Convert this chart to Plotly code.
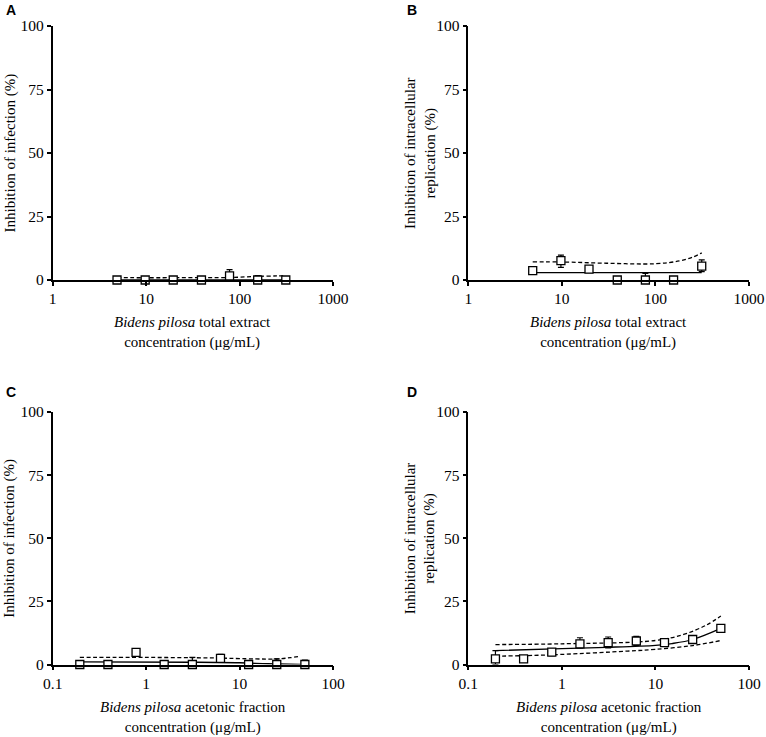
import plotly.graph_objects as go

# концентрации (мкг/мл)
conc_total = [4.88, 9.77, 19.5, 39.1, 78.1, 156.3, 312.5]
conc_acet = [0.195, 0.39, 0.78, 1.56, 3.125, 6.25, 12.5, 25, 50]

# A - ингибирование инфекции, общий экстракт
a_mean = [0, 0, 0, 0, 1.6, 0, 0]
a_err_up = [0, 0, 0, 0, 2.5, 1.7, 0]
a_err_dn = [0, 0, 0, 0, 1.6, 0, 0]
a_fit_x = [4.88, 312.5]
a_fit_y = [0, 0]
a_ci_x = [4.88, 20, 80, 150, 250, 312.5]
a_ci_hi = [0.9, 0.9, 1.0, 1.4, 1.6, 1.6]

# B - ингибирование внутриклеточной репликации, общий экстракт
b_mean = [3.7, 7.6, 4.3, 0, 0, 0, 5.5]
b_err_up = [0, 2.2, 0, 0, 2.6, 0, 2.4]
b_err_dn = [0, 2.6, 0, 0, 0, 0, 2.2]
b_fit_x = [4.88, 312.5]
b_fit_y = [2.9, 2.9]
b_ci_x = [4.88, 10, 30, 100, 180, 250, 312.5]
b_ci_hi = [7.1, 7.1, 6.6, 6.4, 7.5, 9.0, 10.7]

# C - ингибирование инфекции, ацетоновая фракция
c_mean = [0, 0, 4.8, 0, 0, 2.4, 0, 0, 0]
c_err_up = [0, 0, 0, 0, 2.8, 1.6, 0, 2.2, 1.7]
c_err_dn = [0, 0, 0, 0, 0, 1.6, 0, 0, 0]
c_fit_x = [0.195, 3, 10, 20, 45]
c_fit_y = [1.0, 0.9, 0.7, 0.3, 0]
c_ci_x = [0.195, 1, 5, 15, 25, 35, 45]
c_ci_hi = [2.8, 2.8, 2.6, 2.2, 2.2, 2.7, 3.3]

# D - ингибирование внутриклеточной репликации, ацетоновая фракция
d_mean = [2.2, 2.2, 4.9, 8.2, 8.7, 9.3, 8.7, 9.9, 14.3]
d_err_up = [3.3, 1.3, 1.3, 2.4, 2.2, 1.8, 0.4, 1.2, 1.0]
d_err_dn = [2.2, 1.2, 1.4, 1.6, 2.1, 1.7, 0.4, 1.2, 1.1]
d_fit_x = [0.195, 1, 3, 10, 15, 25, 50]
d_fit_y = [5.5, 6.3, 6.8, 7.6, 8.3, 9.9, 14.3]
d_ci_x = [0.195, 1, 10, 20, 35, 50]
d_ci_hi = [7.9, 8.2, 9.5, 11.9, 15.6, 19.2]
d_lo_x = [0.195, 0.5, 1, 5, 10, 25, 50]
d_ci_lo = [3.3, 3.6, 4.0, 5.3, 6.0, 7.5, 9.5]

panels = [
    ("A", conc_total, a_mean, a_err_up, a_err_dn,
     [(a_fit_x, a_fit_y, "solid"), (a_ci_x, a_ci_hi, "dash")]),
    ("B", conc_total, b_mean, b_err_up, b_err_dn,
     [(b_fit_x, b_fit_y, "solid"), (b_ci_x, b_ci_hi, "dash")]),
    ("C", conc_acet, c_mean, c_err_up, c_err_dn,
     [(c_fit_x, c_fit_y, "solid"), (c_ci_x, c_ci_hi, "dash")]),
    ("D", conc_acet, d_mean, d_err_up, d_err_dn,
     [(d_fit_x, d_fit_y, "solid"), (d_ci_x, d_ci_hi, "dash"), (d_lo_x, d_ci_lo, "dash")]),
]

W, H = 766, 737
# расположение осей в пикселях: (лево, право, низ(0), верх(100))
boxes = {
    "A": (52.7, 333, 280, 26),
    "B": (468.3, 749, 280, 26),
    "C": (52.7, 333, 664.5, 412),
    "D": (468.3, 749, 664.5, 412),
}

fig = go.Figure()
serif = "Liberation Serif"

for i, (name, xs, ys, eu, ed, curves) in enumerate(panels):
    n = "" if i == 0 else str(i + 1)
    xa, ya = "x" + n, "y" + n
    for cx, cy, dash in curves:
        fig.add_trace(go.Scatter(
            x=cx, y=cy, mode="lines", xaxis=xa, yaxis=ya, showlegend=False,
            line=dict(color="black", width=1.3, shape="spline",
                      dash="solid" if dash == "solid" else "4px,2.5px"),
            cliponaxis=False, hoverinfo="skip",
        ))
    fig.add_trace(go.Scatter(
        x=xs, y=ys, mode="markers", xaxis=xa, yaxis=ya, showlegend=False,
        marker=dict(symbol="square", size=8, color="white",
                    line=dict(color="black", width=1.3)),
        error_y=dict(type="data", array=eu, arrayminus=ed, color="black",
                     thickness=1.2, width=3),
        cliponaxis=False,
    ))

    l, r, b, t = boxes[name]
    log_rng = [0, 3] if name in "AB" else [-1, 2]
    tv = [1, 10, 100, 1000] if name in "AB" else [0.1, 1, 10, 100]
    tt = ["1", "10", "100", "1000"] if name in "AB" else ["0.1", "1", "10", "100"]
    axis_common = dict(showline=True, linecolor="black", linewidth=1.5,
                       ticks="outside", ticklen=4, tickwidth=1.5, tickcolor="black",
                       showgrid=False, zeroline=False, automargin=False,
                       tickfont=dict(family=serif, size=15.5, color="black"))
    fig.update_layout(**{
        "xaxis" + n: dict(type="log", range=log_rng, tickvals=tv, ticktext=tt,
                          domain=[l / W, r / W], anchor=ya, **axis_common),
        "yaxis" + n: dict(range=[0, 100], tickvals=[0, 25, 50, 75, 100],
                          domain=[1 - b / H, 1 - t / H], anchor=xa, **axis_common),
    })

    # подпись панели
    fig.add_annotation(text="<b>%s</b>" % name, xref="paper", yref="paper",
                       x=(10.5 if name in "AC" else 411.7) / W,
                       y=1 - (10 if name in "AB" else 392) / H,
                       showarrow=False, xanchor="center", yanchor="middle",
                       font=dict(family="Liberation Sans", size=14, color="black"))
    # подпись оси X
    frac = "total extract" if name in "AB" else "acetonic fraction"
    fig.add_annotation(text="<i>Bidens pilosa</i> %s<br>concentration (μg/mL)" % frac,
                       xref="paper", yref="paper", x=(l + r) / 2 / W,
                       y=1 - (b + 52.7) / H, showarrow=False,
                       xanchor="center", yanchor="middle",
                       font=dict(family=serif, size=15, color="black"))
    # подпись оси Y
    ytxt = "Inhibition of infection (%)" if name in "AC" else \
        "Inhibition of intracellular<br>replication (%)"
    fig.add_annotation(text=ytxt, xref="paper", yref="paper", textangle=-90,
                       x=(9.5 if name in "AC" else 420) / W, y=1 - (b + t) / 2 / H,
                       showarrow=False, xanchor="center", yanchor="middle",
                       font=dict(family=serif, size=15, color="black"))

fig.update_layout(width=W, height=H,
                  margin=dict(l=0, r=0, t=0, b=0, pad=0, autoexpand=False),
                  plot_bgcolor="white", paper_bgcolor="white", showlegend=False)

# убрать стандартный отступ страницы, иначе рисунок смещается на 8 px
fig.write_html("out.html", config={"displayModeBar": False},
               post_script="document.body.style.margin='0';"
                           "document.body.style.overflow='hidden';")
